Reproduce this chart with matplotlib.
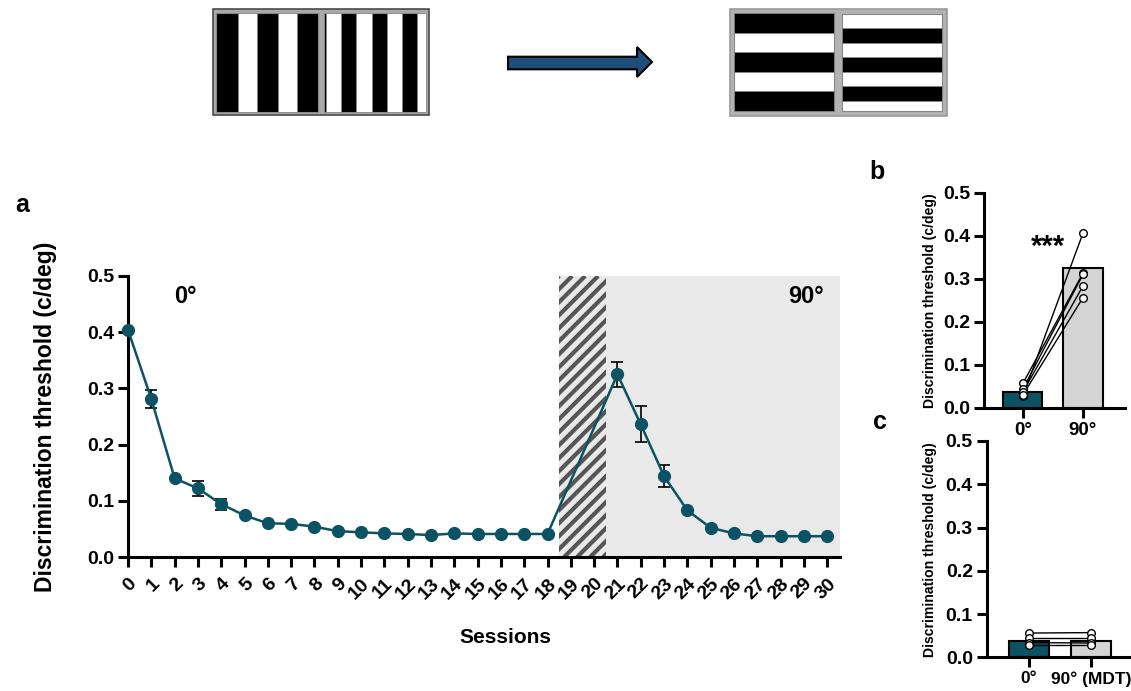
import numpy as np
import matplotlib
matplotlib.use("Agg")
import matplotlib.pyplot as plt
from matplotlib.patches import Rectangle, Polygon

plt.rcParams['font.family'] = ['Liberation Sans', 'DejaVu Sans']
plt.rcParams['font.weight'] = 'bold'

# ---- data ----
sessions = [0, 1, 2, 3, 4, 5, 6, 7, 8, 9, 10, 11, 12, 13, 14, 15, 16, 17, 18,
            21, 22, 23, 24, 25, 26, 27, 28, 29, 30]
threshold = [0.404, 0.281, 0.140, 0.122, 0.094, 0.074, 0.060, 0.059, 0.054, 0.046,
             0.044, 0.042, 0.041, 0.039, 0.042, 0.041, 0.041, 0.041, 0.041,
             0.325, 0.236, 0.144, 0.083, 0.052, 0.042, 0.037, 0.037, 0.037, 0.037]
sem = [0.0, 0.016, 0.0, 0.014, 0.010, 0.0, 0.0, 0.0, 0.0, 0.0,
       0.0, 0.0, 0.0, 0.0, 0.0, 0.0, 0.0, 0.0, 0.0,
       0.022, 0.032, 0.020, 0.0, 0.0, 0.0, 0.0, 0.0, 0.0, 0.0]
session_ticks = list(range(0, 31))
washout = (18.5, 20.5)      # hatched sessions
phase90_start = 18.5

b_labels = ['0°', '90°']
b_means = [0.037, 0.326]
b_subj_0 = [0.028, 0.057, 0.044, 0.037, 0.030]
b_subj_90 = [0.406, 0.313, 0.310, 0.283, 0.256]

c_labels = ['0°', '90° (MDT)']
c_means = [0.038, 0.038]
c_subj_0 = [0.056, 0.044, 0.034, 0.028]
c_subj_90 = [0.057, 0.044, 0.033, 0.028]

teal = '#0b5264'
light = '#d4d4d4'
spine_w = 2.2

fig = plt.figure(figsize=(11.31, 6.91), dpi=100)

# ---- stimulus pictures on top (pixel coordinates overlay) ----
ov = fig.add_axes([0, 0, 1, 1], zorder=-5)
ov.set_xlim(0, 1131)
ov.set_ylim(691, 0)
ov.axis('off')

def frame(x0, y0, x1, y1, edge, fill):
    ov.add_patch(Rectangle((x0, y0), x1 - x0, y1 - y0, facecolor=fill, edgecolor=edge, lw=1.2))

def vstripes(x0, y0, x1, y1, first_white, period, white_w):
    ov.add_patch(Rectangle((x0, y0), x1 - x0, y1 - y0, facecolor='black', edgecolor='#888', lw=0.8))
    x = first_white
    while x < x1:
        ov.add_patch(Rectangle((x, y0), min(white_w, x1 - x), y1 - y0,
                               facecolor='white', edgecolor='#888', lw=0.6))
        x += period

def hstripes(x0, y0, x1, y1, first_black, period, black_w):
    ov.add_patch(Rectangle((x0, y0), x1 - x0, y1 - y0, facecolor='white', edgecolor='#888', lw=0.8))
    y = first_black
    while y < y1:
        ov.add_patch(Rectangle((x0, y), x1 - x0, min(black_w, y1 - y),
                               facecolor='black', edgecolor='#888', lw=0.6))
        y += period

frame(213, 9, 429, 115, '#4a4a4a', '#a9a9a9')
vstripes(216, 12.5, 318, 111.5, 237.7, 40.0, 19.0)
vstripes(324, 12.5, 426, 111.5, 325.7, 30.5, 15.5)

frame(730, 9, 946.5, 115.5, '#9a9a9a', '#b2b2b2')
hstripes(734, 13.3, 834, 111, 13.3, 38.7, 20.0)
hstripes(842, 13.8, 942, 111, 28.3, 29.0, 14.5)

ov.add_patch(Polygon([(508, 56.7), (637, 56.7), (637, 47), (652, 62), (637, 77),
                      (637, 69.3), (508, 69.3)], closed=True,
                     facecolor='#1f4e79', edgecolor='black', lw=1.5))

# ---- panel a ----
ax = fig.add_axes([0.1132, 0.1939, 0.6295, 0.4067])
ax.set_xlim(0, 30.55)
ax.set_ylim(0, 0.5)

ax.axvspan(phase90_start, 30.55, ymin=0, ymax=1, facecolor='#e9e9e9', edgecolor='none', zorder=0)
hatch_bg = Rectangle((washout[0], 0), washout[1] - washout[0], 0.5, facecolor='#e9e9e9',
                     edgecolor='none', zorder=1)
ax.add_patch(hatch_bg)

# diagonal hatch lines at 45 degrees in screen space
p0 = ax.transData.transform((0, 0))
p1 = ax.transData.transform((1, 1))
px_x = p1[0] - p0[0]
px_y = p1[1] - p0[1]
h_px = 0.5 * px_y
dx_full = h_px / px_x
step = 13.0 / px_x
xs = washout[0] - dx_full
while xs < washout[1]:
    ln, = ax.plot([xs, xs + dx_full], [0, 0.5], color='#555555', lw=3.0,
                  solid_capstyle='butt', zorder=2)
    ln.set_clip_path(hatch_bg)
    xs += step

ax.errorbar(sessions, threshold, yerr=sem, fmt='-o', color=teal, lw=1.8, ms=8.5,
            ecolor='black', elinewidth=1.2, capsize=4, capthick=1.2, zorder=4,
            clip_on=False)

ax.set_xticks(session_ticks)
ax.set_xticklabels([str(s) for s in session_ticks], rotation=45, ha='right',
                   rotation_mode='anchor', fontsize=14, fontweight='bold')
ax.set_yticks([0, 0.1, 0.2, 0.3, 0.4, 0.5])
ax.set_yticklabels(['0.0', '0.1', '0.2', '0.3', '0.4', '0.5'], fontsize=14, fontweight='bold')
ax.tick_params(width=spine_w, length=7, pad=3)
ax.tick_params(axis='x', pad=6)
for s in ['top', 'right']:
    ax.spines[s].set_visible(False)
for s in ['left', 'bottom']:
    ax.spines[s].set_linewidth(spine_w)

ax.set_ylabel('Discrimination threshold (c/deg)', fontsize=16.5, fontweight='bold')
ax.yaxis.set_label_coords(-0.100, 0.5)
ax.set_xlabel('Sessions', fontsize=15, fontweight='bold')
ax.xaxis.set_label_coords(0.53, -0.252)
ax.text(2.45, 0.463, '0°', fontsize=17, fontweight='bold', ha='center', va='center')
ax.text(29.1, 0.463, '90°', fontsize=17, fontweight='bold', ha='center', va='center')

fig.text(22 / 1131, 1 - 205 / 691, 'a', fontsize=18, fontweight='bold', ha='center', va='center')
fig.text(877 / 1131, 1 - 172 / 691, 'b', fontsize=18, fontweight='bold', ha='center', va='center')
fig.text(880 / 1131, 1 - 422 / 691, 'c', fontsize=18, fontweight='bold', ha='center', va='center')

# ---- panels b and c ----
def bar_panel(rect, labels, means, subj0, subj90, xlim, lab_x, xfs):
    bx = fig.add_axes(rect)
    pos = [0, 1]
    bx.bar(pos, means, width=0.65, color=[teal, light], edgecolor='black', lw=1.5, zorder=2)
    for a, b in zip(subj0, subj90):
        bx.plot(pos, [a, b], color='black', lw=1.0, zorder=3)
    bx.scatter([0] * len(subj0), subj0, s=30, facecolor='white', edgecolor='black',
               lw=1.0, zorder=4)
    bx.scatter([1] * len(subj90), subj90, s=30, facecolor='white', edgecolor='black',
               lw=1.0, zorder=4)
    bx.set_xlim(*xlim)
    bx.set_ylim(0, 0.5)
    bx.set_xticks(pos)
    bx.set_xticklabels(labels, fontsize=xfs, fontweight='bold')
    bx.set_yticks([0, 0.1, 0.2, 0.3, 0.4, 0.5])
    bx.set_yticklabels(['0.0', '0.1', '0.2', '0.3', '0.4', '0.5'], fontsize=14, fontweight='bold')
    bx.tick_params(width=spine_w, length=7, pad=3)
    for s in ['top', 'right']:
        bx.spines[s].set_visible(False)
    for s in ['left', 'bottom']:
        bx.spines[s].set_linewidth(spine_w)
    bx.set_ylabel('Discrimination threshold (c/deg)', fontsize=10.1, fontweight='bold')
    bx.yaxis.set_label_coords(lab_x, 0.5)
    return bx

bb = bar_panel([0.870, 0.410, 0.1247, 0.3111], b_labels, b_means, b_subj_0, b_subj_90,
               (-0.65, 1.70), -0.335, 13.5)
bb.text(0.42, 0.375, '***', fontsize=21, fontweight='bold', ha='center', va='center')

cc = bar_panel([0.8724, 0.0488, 0.1267, 0.313], c_labels, c_means, c_subj_0, c_subj_90,
               (-0.68, 1.63), -0.345, 12.5)

fig.savefig('out.png', dpi=100)
